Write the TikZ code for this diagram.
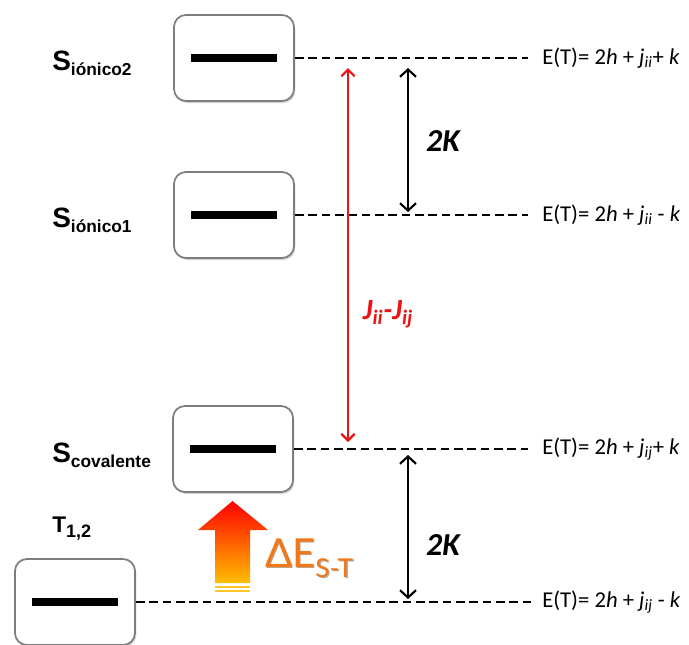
\documentclass[tikz,border=0pt]{standalone}
\usepackage{fontspec}
\setmainfont{Liberation Sans}
\newfontfamily\calib{Carlito}
\newfontfamily\latofont{Lato}
\usetikzlibrary{shadows,arrows.meta}
\definecolor{boxgray}{RGB}{125,125,125}
\definecolor{jred}{RGB}{235,20,20}
\definecolor{deorange}{RGB}{240,120,25}
\definecolor{deshadow}{RGB}{110,50,0}
\definecolor{stripey}{RGB}{255,200,40}
\definecolor{gradbot}{RGB}{255,190,0}
\definecolor{gradmid}{RGB}{255,95,0}
\newcommand\lvlname[3]{{\fontsize{21}{21}\selectfont\bfseries #1}\raisebox{-3.75pt}{\fontsize{#3}{#3}\selectfont\bfseries #2}}
\newcommand\eqtext[2]{E(T)= 2\textit{h} + \textit{j}\textsubscript{\textit{#1}}#2}
\tikzset{
  lvlbox/.style={draw=boxgray, line width=1.3pt, rounded corners=9pt, fill=white,
    minimum width=90pt, minimum height=64.5pt, inner sep=0pt,
    drop shadow={opacity=0.35, shadow xshift=1pt, shadow yshift=-1.5pt}},
  lvlbar/.style={fill=black, minimum width=64.5pt, minimum height=6pt, inner sep=0pt},
  lvldash/.style={line width=2pt, dash pattern=on 6.5pt off 3.5pt},
  lvllab/.style={anchor=base west, inner sep=0pt},
  eqlab/.style={anchor=west, inner sep=0pt, font=\calib\fontsize{17}{17}\selectfont},
  kk/.style={inner sep=0pt, font=\calib\bfseries\itshape\fontsize{24}{24}\selectfont},
  redarr/.style={draw=jred, line width=1.6pt, {Straight Barb[length=5pt,width=10pt]}-{Straight Barb[length=5pt,width=10pt]}},
  blkarr/.style={draw=black, line width=1.6pt, {Straight Barb[length=5.5pt,width=12pt]}-{Straight Barb[length=5.5pt,width=12pt]}},
}
\begin{document}
\begin{tikzpicture}[x=0.75pt,y=-0.75pt]
\useasboundingbox (0,0) rectangle (689,644);
% boxes
\node[lvlbox] (b1) at (234,58) {};
\node[lvlbox] (b2) at (234,215) {};
\node[lvlbox] (b3) at (233,449) {};
\node[lvlbox] (b4) at (75,602) {};
\node[lvlbar] (bar1) at (b1) {};
\node[lvlbar] (bar2) at (b2) {};
\node[lvlbar] (bar3) at (b3) {};
\node[lvlbar] (bar4) at (b4) {};
% dashed lines
\coordinate (e1) at (528,58);
\coordinate (e2) at (528,215);
\coordinate (e3) at (528,449);
\coordinate (e4) at (532,602);
\draw[lvldash] (b1.east) -- (e1);
\draw[lvldash] (b2.east) -- (e2);
\draw[lvldash] (b3.east) -- (e3);
\draw[lvldash] (b4.east) -- (e4);
% equations
\node[eqlab] (q1) at (542,58) {\eqtext{ii}{+ \textit{k}}};
\node[eqlab] (q2) at (542,215) {\eqtext{ii}{ - \textit{k}}};
\node[eqlab] (q3) at (542,449) {\eqtext{ij}{+ \textit{k}}};
\node[eqlab] (q4) at (542,602) {\eqtext{ij}{ - \textit{k}}};
% level names
\node[lvllab] (s1) at (52,70) {\lvlname{S}{iónico2}{13}};
\node[lvllab] (s2) at (52,227) {\lvlname{S}{iónico1}{13}};
\node[lvllab] (s3) at (52,462) {\lvlname{S}{covalente}{13}};
\node[lvllab] (t1) at (52,532) {{\fontsize{17}{17}\selectfont\bfseries T}\raisebox{-3.75pt}{\fontsize{13.5}{13.5}\selectfont\bfseries 1,2}};
% arrows
\coordinate (r1) at (348,68);
\coordinate (r2) at (348,442);
\draw[redarr] (r1) -- (r2);
\coordinate (k1a) at (408,68);
\coordinate (k1b) at (408,212);
\draw[blkarr] (k1a) -- (k1b);
\coordinate (k2a) at (408,455);
\coordinate (k2b) at (408,599);
\draw[blkarr] (k2a) -- (k2b);
\node[kk] (kl1) at (443,141) {2\textit{K}};
\node[kk] (kl2) at (443,545) {2\textit{K}};
\node[kk, text=jred, font=\calib\bfseries\itshape\fontsize{22}{22}\selectfont] (jl) at (388,314) {J\textsubscript{ii}-J\textsubscript{ij}};
% gradient arrow
\shade[top color=red, middle color=gradmid, bottom color=gradbot]
  (215,583) -- (215,530) -- (198,530) -- (232.5,501) -- (268,530) -- (250,530) -- (250,583) -- cycle;
\fill[stripey] (215,585.5) rectangle (250,587.7);
\fill[stripey] (215,590) rectangle (250,592.2);
% Delta E label
\node[lvllab, text=deshadow, opacity=0.45] (des) at (266.5,568.5) {\latofont\fontsize{30}{30}\selectfont ΔE\raisebox{-7.5pt}{\fontsize{19.5}{19.5}\selectfont S-T}};
\node[lvllab, text=deorange] (de) at (265,567) {\latofont\fontsize{30}{30}\selectfont ΔE\raisebox{-7.5pt}{\fontsize{19.5}{19.5}\selectfont S-T}};
\end{tikzpicture}
\end{document}
